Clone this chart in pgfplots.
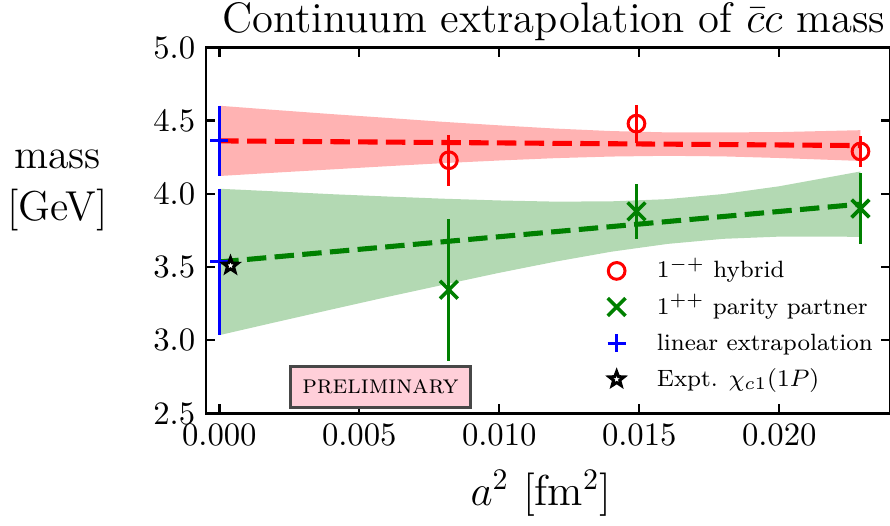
\documentclass[border=0pt]{standalone}
\usepackage{pgfplots}
\pgfplotsset{compat=1.18}

\definecolor{mplgreen}{RGB}{0,128,0}
\definecolor{bandred}{RGB}{255,179,179}
\definecolor{bandgreen}{RGB}{179,217,179}
\definecolor{prelimpink}{RGB}{255,207,217}

% five-pointed star marker
\pgfdeclareplotmark{pentastar}{%
  \pgfpathmoveto{\pgfpointpolar{90}{\pgfplotmarksize}}%
  \pgfpathlineto{\pgfpointpolar{126}{0.42\pgfplotmarksize}}%
  \pgfpathlineto{\pgfpointpolar{162}{\pgfplotmarksize}}%
  \pgfpathlineto{\pgfpointpolar{198}{0.42\pgfplotmarksize}}%
  \pgfpathlineto{\pgfpointpolar{234}{\pgfplotmarksize}}%
  \pgfpathlineto{\pgfpointpolar{270}{0.42\pgfplotmarksize}}%
  \pgfpathlineto{\pgfpointpolar{306}{\pgfplotmarksize}}%
  \pgfpathlineto{\pgfpointpolar{342}{0.42\pgfplotmarksize}}%
  \pgfpathlineto{\pgfpointpolar{18}{\pgfplotmarksize}}%
  \pgfpathlineto{\pgfpointpolar{54}{0.42\pgfplotmarksize}}%
  \pgfpathclose
  \pgfusepathqfillstroke
}

\begin{document}
\begin{tikzpicture}
\begin{axis}[
    name=ax,
    scale only axis,
    width=229.2pt, height=122.6pt,
    xmin=-0.000486, xmax=0.023954,
    ymin=2.5, ymax=5.0,
    clip=false,
    xtick={0,0.005,0.010,0.015,0.020},
    ytick={2.5,3.0,3.5,4.0,4.5,5.0},
    scaled x ticks=false,
    xticklabel style={/pgf/number format/.cd, fixed, fixed zerofill, precision=3},
    yticklabel style={/pgf/number format/.cd, fixed, fixed zerofill, precision=1},
    tick align=inside,
    major tick length=3.1pt,
    tick style={black, line width=0.8pt},
    axis line style={line width=0.8pt},
    tick label style={font=\fontsize{11.3}{13}\selectfont},
    every axis title shift=0pt,
    title={Continuum extrapolation of $\bar{c}c$ mass},
    title style={at={(0.5,1)}, anchor=base, xshift=2pt, yshift=5.1pt, font=\fontsize{14.3}{17}\selectfont},
    xlabel={$a^2$ [fm$^2$]},
    xlabel style={at={(0.49,0)}, anchor=base, yshift=-30.7pt, font=\fontsize{14.5}{17}\selectfont},
    legend cell align=left,
    legend style={draw=none, fill=none, at={(rel axis cs:0.5735,0.2415)}, anchor=west,
        font=\fontsize{7.9}{9.5}\selectfont, row sep=0pt, column sep=8.5pt,
        nodes={text height=6.5pt, text depth=1.8pt, inner ysep=1.9pt}},
]

% fit bands
\addplot[fill=bandred, draw=none, forget plot] coordinates {
    (0,4.602) (0.002,4.573) (0.004,4.545) (0.006,4.519) (0.008,4.492) (0.010,4.468)
    (0.012,4.446) (0.014,4.429) (0.016,4.420) (0.018,4.420) (0.020,4.422) (0.0229,4.435)
    (0.0229,4.225) (0.020,4.245) (0.018,4.256) (0.016,4.260) (0.014,4.255) (0.012,4.244)
    (0.010,4.228) (0.008,4.210) (0.006,4.189) (0.004,4.167) (0.002,4.145) (0,4.122)
};
\addplot[fill=bandgreen, draw=none, forget plot] coordinates {
    (0,4.035) (0.002,4.017) (0.004,3.998) (0.006,3.982) (0.008,3.967) (0.010,3.955)
    (0.012,3.947) (0.014,3.949) (0.016,3.964) (0.018,3.999) (0.020,4.052) (0.0229,4.153)
    (0.0229,3.707) (0.020,3.708) (0.018,3.693) (0.016,3.658) (0.014,3.605) (0.012,3.537)
    (0.010,3.461) (0.008,3.379) (0.006,3.296) (0.004,3.210) (0.002,3.123) (0,3.035)
};

% fit lines
\addplot[red, line width=1.7pt, dash pattern=on 6.5pt off 2.8pt, forget plot]
    coordinates {(0,4.362) (0.0229,4.330)};
\addplot[mplgreen, line width=1.7pt, dash pattern=on 6.5pt off 2.8pt, forget plot]
    coordinates {(0,3.535) (0.0229,3.930)};

% lattice data
\addplot[only marks, red, mark=o, mark size=2.8pt, line width=1pt,
    error bars/.cd, y dir=both, y explicit, error mark=none,
    error bar style={line width=1pt}]
    coordinates {
        (0.0082,4.230) +- (0,0.175)
        (0.0149,4.480) +- (0,0.130)
        (0.0229,4.290) +- (0,0.106)
    };
\addlegendentry{$1^{-+}$ hybrid}

\addplot[only marks, mplgreen, mark=x, mark size=4.2pt, line width=1.2pt,
    error bars/.cd, y dir=both, y explicit, error mark=none,
    error bar style={line width=1pt}]
    coordinates {
        (0.0082,3.345) +- (0,0.485)
        (0.0149,3.880) +- (0,0.190)
        (0.0229,3.900) +- (0,0.245)
    };
\addlegendentry{$1^{++}$ parity partner}

\addplot[only marks, blue, mark=+, mark size=3pt, line width=1pt,
    error bars/.cd, y dir=both, y explicit, error mark=none,
    error bar style={line width=1pt}]
    coordinates {
        (0,4.362) +- (0,0.240)
        (0,3.535) +- (0,0.500)
    };
\addlegendentry{linear extrapolation}

\addplot[only marks, mark=pentastar, mark size=2.6pt,
    mark options={draw=black, fill=white, line width=1pt}]
    coordinates {(0.0004,3.510)};
\addlegendentry{Expt. $\chi_{c1}(1P)$}

% y label, set horizontally
\node[anchor=base, font=\fontsize{14}{17}\selectfont] at (rel axis cs:-0.2166,0.670) {mass};
\node[anchor=base, font=\fontsize{14}{17}\selectfont] at (rel axis cs:-0.2166,0.528) {[GeV]};

% preliminary stamp
\node[draw=black!72, fill=prelimpink, line width=1pt, minimum width=60pt,
    minimum height=13.7pt, inner sep=0pt, font=\fontsize{8.8}{10}\selectfont]
    at (axis cs:0.005757,2.68) {\textsc{preliminary}};
\end{axis}
\pgfresetboundingbox
\path[use as bounding box] ([xshift=-68.9pt,yshift=-37.4pt]ax.south west)
    rectangle ([yshift=15.9pt]ax.north east);
\end{tikzpicture}
\end{document}
